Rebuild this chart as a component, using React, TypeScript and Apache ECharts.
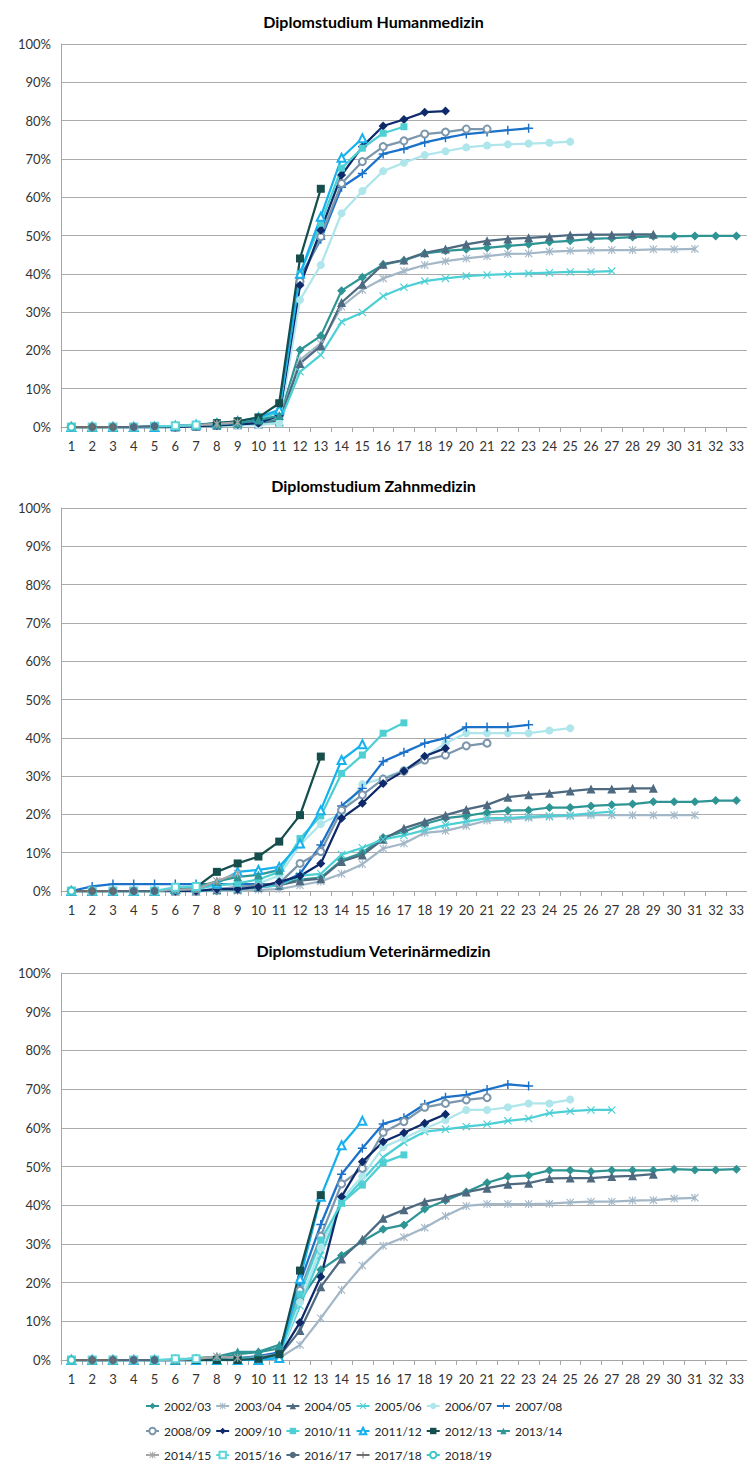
import React, { useEffect, useRef } from "react";
import * as echarts from "echarts";

// Semester categories
const semesters = ["1","2","3","4","5","6","7","8","9","10","11","12","13","14","15","16","17","18","19","20","21","22","23","24","25","26","27","28","29","30","31","32","33"];

// Cohorts (Studienjahr of first enrolment)
const cohorts = ["2002/03","2003/04","2004/05","2005/06","2006/07","2007/08","2008/09","2009/10","2010/11","2011/12","2012/13","2013/14","2014/15","2015/16","2016/17","2017/18","2018/19"];

const panelTitles = ["Diplomstudium Humanmedizin", "Diplomstudium Zahnmedizin", "Diplomstudium Veterinärmedizin"];

// cumulative completion rates in %, per cohort, by semester
const humanmedizin: number[][] = [
  [0,0,0,0,0,0,0.3,0.5,0.8,1,2,20.1,23.8,35.6,39.1,42.4,43.5,45.3,46,46.4,46.8,47.3,47.7,48.3,48.6,49.1,49.3,49.6,49.8,49.8,49.9,49.9,49.9],
  [0,0,0,0,0,0,0.2,0.4,0.6,0.8,1.5,17.5,21.8,31.4,35.8,38.8,40.7,42.3,43.3,44,44.6,45.2,45.3,45.8,46,46.1,46.2,46.2,46.4,46.4,46.5],
  [0,0,0,0,0,0,0.2,0.4,0.6,0.8,1.5,16.6,21.2,32.5,37.3,42.5,43.6,45.5,46.5,47.7,48.6,49.1,49.4,49.7,50.1,50.2,50.2,50.3,50.3],
  [0,0,0,0,0,0,0.2,0.3,0.5,0.7,1,14.4,18.8,27.5,29.9,34.2,36.5,38.1,38.8,39.4,39.7,39.9,40.1,40.3,40.5,40.5,40.7],
  [0,0,0,0,0,0,0.2,0.3,0.4,0.5,1,33.2,42.3,55.8,61.6,66.8,69,71,72,73,73.5,73.8,74,74.2,74.5],
  [0,0,0,0,0,0,0.3,0.5,1,1.5,3,39,49,62.6,66.2,71.3,72.6,74.3,75.5,76.5,77,77.5,78],
  [0,0,0,0,0,0,0.3,0.5,0.8,1.2,3,38,49.7,63.6,69.3,73.2,74.7,76.5,77,77.8,77.8],
  [0,0,0,0,0,0,0.2,0.4,0.7,1,3,37,51.4,65.8,73.2,78.6,80.3,82.2,82.5],
  [0,0,0,0,0,0.3,0.5,0.8,1.2,2,4,40,53.2,67.6,72.8,76.7,78.4],
  [0,0,0,0,0,0.3,0.6,1,1.5,2.5,4.5,40,54.9,70.3,75.4],
  [0,0,0,0,0,0.2,0.5,1,1.5,2.5,6.2,44,62.2],
  [0,0,0,0,0.2,0.3,0.5,0.7,1,1.8,3],
  [0,0,0,0,0.2,0.3,0.5,0.8,1.2],
  [0,0,0,0,0.2,0.3,0.5],
  [0,0,0,0,0.2],
  [0,0,0],
  [0],
];

const zahnmedizin: number[][] = [
  [0,0,0,0,0,0,0,0,0.5,1,2,3,3.5,8,10,14,15.5,17.5,19,19.6,20.5,21,21.1,21.8,21.8,22.2,22.5,22.7,23.3,23.3,23.3,23.6,23.6],
  [0,0,0,0,0,0,0,0,0,0.3,0.5,1.5,2.5,4.5,7,11.1,12.4,15.2,15.7,17,18.4,18.7,19.1,19.4,19.6,19.8,19.8,19.8,19.8,19.8,19.8],
  [0,0,0,0,0,0,0,0.3,0.5,1,1.5,2.7,3.2,7.7,9.4,13.5,16.4,18.1,19.8,21.3,22.5,24.5,25.1,25.5,26.1,26.6,26.6,26.8,26.8],
  [0,0,0,0,0,0,0,0.3,0.5,1,1.5,4,4.5,9.5,11.3,13.5,14.5,15.9,17.2,18.1,19,19,19.4,19.6,19.8,20.3,20.7],
  [0,0,0,0,0,0,0.3,0.5,1,2,4,12,17.5,20.3,27.9,29.4,31.6,35,38.6,41.2,41.2,41.2,41.2,41.9,42.5],
  [0,1.2,1.8,1.8,1.8,1.8,1.8,1.8,1.8,1.8,1.8,4.5,12,22.2,26.8,33.8,36.2,38.6,39.9,42.8,42.8,42.8,43.4],
  [0,0,0,0,0,0,0,0.5,1,1.5,2,7.2,10.3,21.1,25.1,29.2,31.3,34.2,35.5,37.9,38.6],
  [0,0,0,0,0,0,0,0.5,0.5,1.1,2.4,3.9,7.2,19,22.9,28.1,31.3,35.2,37.3],
  [0,0,0,0,0,0.5,0.5,1.5,2,3,5,13.7,19.6,30.7,35.5,41.2,43.9],
  [0,0,0,0,0,0.5,1,2,5,5.5,6.3,12.4,21.1,34.2,38.3],
  [0,0,0,0,0,0.5,1,5,7.2,9,12.9,19.8,35.1],
  [0,0,0,0,0,0.5,1,2.5,3.7,4.2,5.5],
  [0,0,0,0,0,0.3,0.5,2.6,4.6],
  [0,0,0,0,0,1,1.2],
  [0,0,0,0,0],
  [0,0,0],
  [0],
];

const veterinaermedizin: number[][] = [
  [0,0,0,0,0,0,0,0.5,1.5,2,3,15.5,23.3,27,30.7,33.8,34.9,39,41.2,43.4,45.8,47.4,47.7,49,49,48.7,49,49,49,49.3,49.1,49.1,49.3],
  [0,0,0,0,0,0,0,0,0,0.2,0.5,3.9,10.8,18.1,24.4,29.5,31.7,34.2,37.2,39.8,40.3,40.3,40.3,40.4,40.7,40.9,40.9,41.2,41.3,41.7,41.9],
  [0,0,0,0,0,0,0,0,0.3,0.5,1,7.6,18.9,26.1,31.2,36.6,38.8,40.9,41.9,43.4,44.4,45.4,45.7,46.9,47,47,47.4,47.6,48],
  [0,0,0,0,0,0,0,0,0.3,0.5,1,14,27,40.5,46.5,52.4,56.2,59,59.6,60.3,60.9,61.8,62.4,63.8,64.3,64.6,64.6],
  [0,0,0,0,0,0,0,0,0.3,0.5,1,15,29,41.5,47.5,55,57.3,59.8,62,64.6,64.6,65.3,66.3,66.3,67.3],
  [0,0,0,0,0,0,0,0.3,0.5,1,2,20,35,48,54.7,61,62.6,66.1,67.9,68.5,69.9,71.2,70.8],
  [0,0,0,0,0,0,0,0.3,0.5,0.8,1.5,18,32,45.5,49.5,58.8,61.6,65.3,66.3,67.2,67.8],
  [0,0,0,0,0,0,0,0,0.3,0.5,1,9.7,21.5,42.2,51.2,56.4,58.7,61.2,63.5],
  [0,0,0,0,0,0,0,0,0.3,0.5,1,17,31,40.5,45.2,51,53],
  [0,0,0,0,0,0,0,0,0,0,0.5,21,42.2,55.5,61.8],
  [0,0,0,0,0,0,0,0,0,0.3,1.5,23.1,42.6],
  [0,0,0,0,0,0,0.5,0.9,2.1,2.1,3.9],
  [0,0,0,0,0,0,0.3,0.9,0.6],
  [0,0,0,0,0,0.3,0.3],
  [0,0,0,0,0],
  [0,0,0],
  [0],
];

const panelData = [humanmedizin, zahnmedizin, veterinaermedizin];

const colors = ["#2E9494","#A3B7C7","#4E6A80","#4CCFD5","#AEE6EC","#1B72C8","#7C96AC","#0E2A6A","#4ECFD3","#17B1EE","#164D4D","#2E9696","#A6A6A6","#5CD5DA","#536B80","#6E6E6E","#3FC7C8"];

const SX = "path://M1,0L5,4L9,0L10,1L6,5L10,9L9,10L5,6L1,10L0,9L4,5L0,1Z";
const SPLUS = "path://M4.2,0H5.8V4.2H10V5.8H5.8V10H4.2V5.8H0V4.2H4.2Z";
const SSTAR = "path://M1,0L5,4L9,0L10,1L6,5L10,9L9,10L5,6L1,10L0,9L4,5L0,1Z M4.3,0H5.7V10H4.3Z";

const symbols = ["diamond", SSTAR, "triangle", SX, "circle", SPLUS, "emptyCircle", "diamond", "rect", "emptyTriangle", "rect", "triangle", SSTAR, "emptyRect", "circle", SPLUS, "emptyCircle"];
const symbolSizes = [9, 8, 9, 8, 8, 9, 7, 9, 7, 8, 8, 9, 8, 7, 8, 9, 7];

// legend rows as in the reference
const legendRows = [cohorts.slice(0, 6), cohorts.slice(6, 12), cohorts.slice(12)];

export default function App() {
  const ref = useRef<HTMLDivElement>(null);
  useEffect(() => {
    if (!ref.current) return;
    const chart = echarts.init(ref.current, null, { renderer: "svg" });
    const font = "Lato";
    const gridTops = [44, 508, 973];
    const gridHeights = [383, 383, 387];
    const titleTops = [8, 472, 937];
    const legendTops = [1400, 1425, 1449];
    const grids = gridTops.map((t, i) => ({ left: 61, top: t, width: 686, height: gridHeights[i] }));
    const xAxes = gridTops.map((_, i) => ({
      type: "category",
      gridIndex: i,
      data: semesters,
      boundaryGap: true,
      axisLine: { lineStyle: { color: "#A6A6A6", width: 1 } },
      axisTick: { show: true, length: 5, lineStyle: { color: "#A6A6A6" } },
      axisLabel: { color: "#333333", fontFamily: font, fontSize: 13, margin: 12, interval: 0 },
    }));
    const yAxes = gridTops.map((_, i) => ({
      type: "value",
      gridIndex: i,
      min: 0,
      max: 100,
      interval: 10,
      axisLine: { show: true, lineStyle: { color: "#A6A6A6" } },
      axisTick: { show: false },
      splitLine: { lineStyle: { color: "#ABABAB", width: 1 } },
      axisLabel: { formatter: "{value}%", color: "#333333", fontFamily: font, fontSize: 13, margin: 10 },
    }));
    const series: any[] = [];
    panelData.forEach((panel, p) => {
      panel.forEach((vals, c) => {
        series.push({
          type: "line",
          name: cohorts[c],
          xAxisIndex: p,
          yAxisIndex: p,
          data: vals,
          symbol: symbols[c],
          symbolSize: symbolSizes[c],
          showAllSymbol: true,
          lineStyle: { color: colors[c], width: 2.25 },
          itemStyle: { color: colors[c], borderColor: colors[c], borderWidth: String(symbols[c]).startsWith("empty") ? 1.5 : 0 },
          emphasis: { disabled: true },
        });
      });
    });
    chart.setOption({
      animation: false,
      backgroundColor: "#ffffff",
      color: colors,
      title: panelTitles.map((t, i) => ({
        text: t,
        left: "center",
        top: titleTops[i],
        textStyle: { fontFamily: font, fontSize: 16, fontWeight: "bold", color: "#000" },
      })),
      grid: grids,
      xAxis: xAxes,
      yAxis: yAxes,
      legend: legendRows.map((row, i) => ({
        data: row,
        left: 145,
        top: legendTops[i],
        width: 600,
        padding: 0,
        itemWidth: 13,
        itemHeight: 8,
        itemGap: 4,
        textStyle: { fontFamily: font, fontSize: 12, color: "#262626" },
      })),
      series,
    });
    return () => chart.dispose();
  }, []);
  return <div ref={ref} style={{ position: "absolute", left: 0, top: 0, width: 747, height: 1470, background: "#fff" }} />;
}
